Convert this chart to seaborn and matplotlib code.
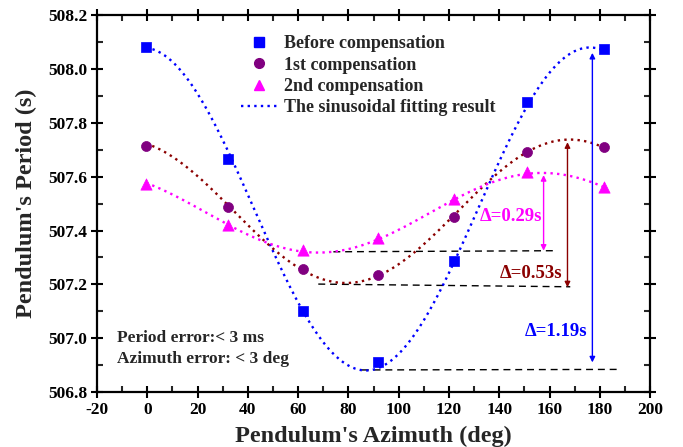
import numpy as np
import pandas as pd
import matplotlib
matplotlib.use("Agg")
import matplotlib.pyplot as plt
from matplotlib.lines import Line2D
from matplotlib.ticker import MultipleLocator, FormatStrFormatter
import seaborn as sns

# Measured pendulum periods (s) at each azimuth (deg)
azimuth = [-0.6, 32.1, 62.0, 91.9, 121.9, 150.9, 181.7]
period_before = [508.080, 507.666, 507.102, 506.910, 507.287, 507.877, 508.074]
period_first = [507.713, 507.486, 507.257, 507.235, 507.450, 507.692, 507.712]
period_second = [507.572, 507.419, 507.326, 507.373, 507.518, 507.616, 507.562]

series_names = ["Before compensation", "1st compensation", "2nd compensation"]
fit_label = "The sinusoidal fitting result"

# Sinusoidal fit results: offset, amplitude, azimuth of maximum, period (deg)
fit_before = [507.480, 0.600, 176.0, 178.0]
fit_first = [507.4715, 0.2665, 168.0, 178.0]
fit_second = [507.466, 0.148, 157.0, 178.0]
fit_span = [-0.5, 181.0]

# Peak-to-peak variations
delta_labels = ["\u0394=0.29s", "\u0394=0.53s", "\u0394=1.19s"]

point_colors = ["#0000FF", "#800080", "#FF00FF"]
fit_colors = ["#0000FF", "#8B0000", "#FF00FF"]
marker_shapes = ["s", "o", "^"]
marker_sizes = [46, 52, 66]

sns.set_style("ticks")
plt.rcParams["font.family"] = ["Liberation Serif", "DejaVu Serif"]
plt.rcParams["font.weight"] = "bold"
plt.rcParams["axes.labelweight"] = "bold"
plt.rcParams["axes.unicode_minus"] = False

fig = plt.figure(figsize=(6.83, 4.47), dpi=100)
ax = fig.add_axes([0.142, 0.123, 0.810, 0.843])

# fitted curves
xs = np.linspace(fit_span[0], fit_span[1], 400)
for params, col in zip([fit_before, fit_first, fit_second], fit_colors):
    y0, amp, xmax, per = params
    ys = y0 + amp * np.cos(2 * np.pi * (xs - xmax) / per)
    ax.plot(xs, ys, color=col, lw=1.7, linestyle=(0, (1, 1.8)), zorder=2)

# measured points
df = pd.DataFrame({
    "azimuth": azimuth * 3,
    "period": period_before + period_first + period_second,
    "series": sum([[n] * len(azimuth) for n in series_names], []),
})
for name, col, mk, sz in zip(series_names, point_colors, marker_shapes, marker_sizes):
    sub = df[df["series"] == name]
    sns.scatterplot(data=sub, x="azimuth", y="period", color=col, marker=mk,
                    s=sz, edgecolor=col, linewidth=0.5, ax=ax, zorder=3,
                    legend=False)

# baselines at the minima
dash = dict(color="black", lw=1.0, linestyle=(0, (5, 3.5)), zorder=1)
ax.plot([74.0, 162.2], [507.321, 507.325], **dash)
ax.plot([68.0, 168.2], [507.201, 507.191], **dash)
ax.plot([85.3, 186.8], [506.882, 506.884], **dash)

# peak-to-peak arrows
arrows = [
    (157.6, 507.606, 507.325, "#FF00FF"),
    (167.1, 507.728, 507.189, "#8B0000"),
    (177.0, 508.060, 506.910, "#0000FF"),
]
for x, ytop, ybot, col in arrows:
    ax.annotate("", xy=(x, ytop), xytext=(x, ybot),
                arrowprops=dict(arrowstyle="<|-|>", color=col, lw=1.0,
                                mutation_scale=8, shrinkA=0, shrinkB=0))

ax.text(144.7, 507.451, delta_labels[0], color="#FF00FF", fontsize=13.5,
        ha="center", va="center")
ax.text(152.5, 507.241, delta_labels[1], color="#8B0000", fontsize=13.5,
        ha="center", va="center")
ax.text(162.4, 507.024, delta_labels[2], color="#0000FF", fontsize=13.5,
        ha="center", va="center")

ax.text(-12.0, 507.002, "Period error:< 3 ms", fontsize=12.5, ha="left", va="center")
ax.text(-12.0, 506.921, "Azimuth error: < 3 deg", fontsize=12.5, ha="left", va="center")

# legend
handles = [Line2D([], [], color=c, marker=m, linestyle="none", markersize=7)
           for c, m in zip(point_colors, marker_shapes)]
handles.append(Line2D([], [], color="#0000FF", lw=1.7, linestyle=(0, (1, 1.8))))
ax.legend(handles, series_names + [fit_label], loc="upper left",
          bbox_to_anchor=(0.247, 0.966), frameon=False, fontsize=13,
          handlelength=2.0, handletextpad=0.4, labelspacing=0.24,
          borderaxespad=0.0, numpoints=1)

ax.set_xlim(-20, 200)
ax.set_ylim(506.8, 508.2)
ax.xaxis.set_major_locator(MultipleLocator(20))
ax.xaxis.set_minor_locator(MultipleLocator(10))
ax.yaxis.set_major_locator(MultipleLocator(0.2))
ax.yaxis.set_minor_locator(MultipleLocator(0.1))
ax.yaxis.set_major_formatter(FormatStrFormatter("%.1f"))

for sp in ax.spines.values():
    sp.set_linewidth(1.6)
    sp.set_color("black")
ax.tick_params(which="major", direction="inout", length=8, width=1.5,
               top=True, right=True, labelsize=12.5, pad=3, colors="black")
ax.tick_params(which="minor", direction="in", length=4, width=1.5,
               top=True, right=True)
for lab in ax.get_xticklabels() + ax.get_yticklabels():
    lab.set_fontweight("bold")

ax.set_xlabel("Pendulum's Azimuth (deg)", fontsize=17.5, labelpad=6)
ax.set_ylabel("Pendulum's Period (s)", fontsize=17.5, labelpad=8)

fig.savefig("out.png", dpi=100)
